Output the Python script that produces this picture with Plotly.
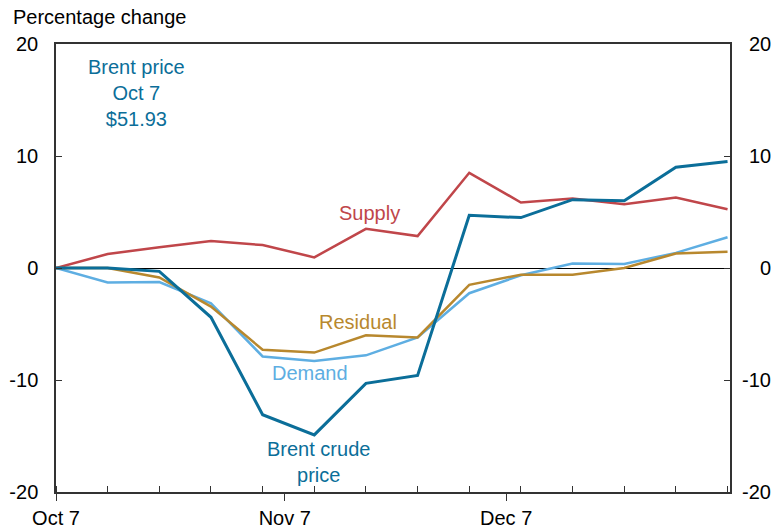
import plotly.graph_objects as go
import pandas as pd

dates = pd.date_range("2016-10-07", periods=14, freq="7D")
brent = [0, 0, -0.3, -4.4, -13.1, -14.9, -10.3, -9.6, 4.7, 4.5, 6.1, 6.0, 9.0, 9.5]
supply = [0, 1.25, 1.85, 2.4, 2.05, 0.95, 3.5, 2.85, 8.5, 5.85, 6.2, 5.7, 6.3, 5.25]
demand = [0, -1.3, -1.25, -3.15, -7.9, -8.3, -7.8, -6.2, -2.25, -0.65, 0.4, 0.35, 1.35, 2.75]
residual = [0, 0, -0.85, -3.45, -7.3, -7.55, -6.0, -6.2, -1.5, -0.6, -0.6, 0.0, 1.3, 1.45]

x_tickvals = ["2016-10-07", "2016-11-07", "2016-12-07"]
x_ticktext = ["Oct 7", "Nov 7", "Dec 7"]
y_ticks = [-20, -10, 0, 10, 20]
y_ticktext = ["-20", "-10", "0", "10", "20"]

C_BRENT = "#0b6e99"
C_SUPPLY = "#c0464a"
C_DEMAND = "#5eaee2"
C_RESID = "#b8882e"
FONT = "Liberation Sans, Arial, sans-serif"
FS = 20

# plot area targeted at x 56..730, y 44..492 in page pixels (body margin removed below)
PL, PR, PT, PB = 56, 730, 44, 492
W, H = 780, 528
PW, PH = PR - PL, PB - PT

fig = go.Figure()
fig.add_trace(go.Scatter(x=dates, y=supply, mode="lines", line=dict(color=C_SUPPLY, width=2.5), name="Supply"))
fig.add_trace(go.Scatter(x=dates, y=demand, mode="lines", line=dict(color=C_DEMAND, width=2.5), name="Demand"))
fig.add_trace(go.Scatter(x=dates, y=residual, mode="lines", line=dict(color=C_RESID, width=2.5), name="Residual"))
fig.add_trace(go.Scatter(x=dates, y=brent, mode="lines", line=dict(color=C_BRENT, width=3), name="Brent crude price"))
fig.add_trace(go.Scatter(x=[dates[0]], y=[0], yaxis="y2", mode="markers", marker=dict(opacity=0), showlegend=False, hoverinfo="skip"))

def d(days):
    return pd.Timestamp("2016-10-07") + pd.Timedelta(days=days)

ann = [
    dict(x=d(10.9), y=15.6, text="Brent price<br>Oct 7<br>$51.93", color=C_BRENT),
    dict(x=d(42.5), y=4.9, text="Supply", color=C_SUPPLY),
    dict(x=d(40.9), y=-4.8, text="Residual", color=C_RESID),
    dict(x=d(34.4), y=-9.4, text="Demand", color=C_DEMAND),
    dict(x=d(35.6), y=-17.3, text="Brent crude<br>price", color=C_BRENT),
]
for a in ann:
    fig.add_annotation(x=a["x"], y=a["y"], xref="x", yref="y", text=a["text"], showarrow=False,
                       font=dict(family=FONT, size=FS, color=a["color"]), xanchor="center", yanchor="middle")

fig.add_annotation(x=(11 - PL) / PW, y=(PB - 17) / PH, xref="paper", yref="paper", text="Percentage change",
                   showarrow=False, xanchor="left", yanchor="middle", font=dict(family=FONT, size=FS, color="black"))

# right-hand tick labels (right-aligned like the reference)
for v, t in zip(y_ticks, y_ticktext):
    fig.add_annotation(x=(773 - PL) / PW, y=v, xref="paper", yref="y", text=t, showarrow=False,
                       xanchor="right", yanchor="middle", font=dict(family=FONT, size=FS, color="black"))

axis_line = dict(showline=True, linecolor="#333333", linewidth=1.5, showgrid=False, automargin=False)

fig.update_layout(
    width=W, height=H,
    margin=dict(l=PL, r=W - PR, t=PT, b=H - PB),
    plot_bgcolor="white", paper_bgcolor="white",
    showlegend=False,
    font=dict(family=FONT, size=FS, color="black"),
    xaxis=dict(type="date", range=[pd.Timestamp("2016-10-07"), pd.Timestamp("2017-01-06 08:00")],
               tickvals=x_tickvals, ticktext=x_ticktext, ticks="outside", ticklen=7, tickcolor="#333333",
               mirror=True, zeroline=False,
               minor=dict(ticks="inside", ticklen=6, tick0="2016-10-07", dtick=7 * 86400000, tickcolor="#333333", showgrid=False),
               **axis_line),
    yaxis=dict(range=[-20, 20], tickvals=y_ticks, ticktext=y_ticktext, ticks="inside", ticklen=6, tickcolor="#333333",
               zeroline=True, zerolinecolor="black", zerolinewidth=1, ticklabelstandoff=12, **axis_line),
    yaxis2=dict(range=[-20, 20], tickvals=y_ticks, ticks="inside", ticklen=6, tickcolor="#333333",
                overlaying="y", side="right", zeroline=False, showticklabels=False, **axis_line),
)

fig.write_html("out.html", config={"displayModeBar": False},
               post_script="document.body.style.margin='0';")
